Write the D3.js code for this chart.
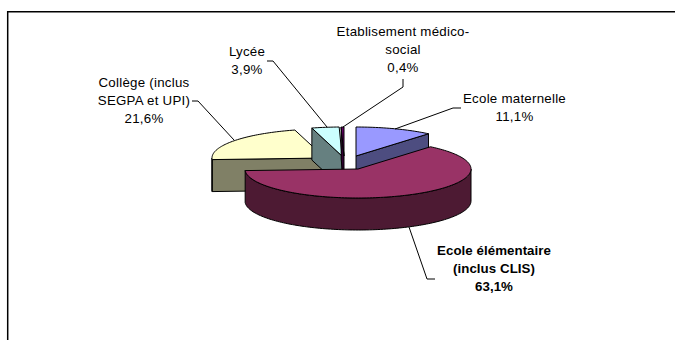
<!DOCTYPE html>
<html>
<head>
<meta charset="utf-8">
<script src="https://cdn.jsdelivr.net/npm/d3@7"></script>
<style>
html, body { margin: 0; background: #fff; }
svg { display: block; }
text { font-family: "Liberation Sans", Arial, sans-serif; font-size: 13.3px; letter-spacing: 0.25px; fill: #000; }
</style>
</head>
<body>
<svg id="board" width="675" height="340"></svg>
<script>
// order = clockwise from 12 o'clock, as in the spreadsheet
const categories = [
    ["Ecole maternelle"],
    ["Ecole élémentaire", "(inclus CLIS)"],
    ["Collège (inclus", "SEGPA et UPI)"],
    ["Lycée"],
    ["Etablisement médico-", "social"]
];
const values = [11.1, 63.1, 21.6, 3.9, 0.4];
const topColors = ["#9999ff", "#993366", "#ffffcc", "#ccffff", "#660066"];
const sideColors = ["#4d4d80", "#4d1a33", "#808066", "#668080", "#330033"];

// pie apex of each slice once pulled out
const apexX = [356, 358, 325, 342, 344];
const apexY = [156, 169, 158, 156, 156];
const labelX = [514.5, 494, 144, 247, 403];
const labelY = [103, 255, 87, 56, 36];
const leaders = [
    [[461, 108], [453, 108], [395, 129]],
    [[435, 279], [427, 279], [409, 227]],
    [[192, 101], [198, 101], [234, 140]],
    [[267, 61], [273, 61], [327, 127]],
    [[403, 79], [403, 87], [343, 127]]
];

const rx = 113;
const ry = 29;
const depth = 32;
const lineHeight = 18;

const svg = d3.select("#board");

// frame of the chart area, cut off by the page on the right and bottom
svg.append("path")
    .attr("d", "M7.7,340V11.7H675")
    .attr("fill", "none")
    .attr("stroke", "#000")
    .attr("stroke-width", 1.5);

const slices = d3.pie().sort(null).value(d => d)(values);
const line = d3.line();

function rim(i, a, dy) {
    return [apexX[i] + rx * Math.sin(a), apexY[i] - ry * Math.cos(a) + (dy || 0)];
}

function arcPoints(i, a0, a1, dy) {
    const n = Math.max(2, Math.ceil((a1 - a0) * 40));
    return d3.range(n + 1).map(k => rim(i, a0 + (a1 - a0) * k / n, dy));
}

function drawSlice(i) {
    const s = slices[i];
    const apex = [apexX[i], apexY[i]];
    const apexLow = [apexX[i], apexY[i] + depth];
    const g = svg.append("g").attr("stroke", "#000").attr("stroke-linejoin", "round");
    const faces = [];

    // cut faces, only the ones turned towards the viewer
    if (s.startAngle > Math.PI) faces.push([apex, rim(i, s.startAngle), rim(i, s.startAngle, depth), apexLow]);
    if (s.endAngle < Math.PI) faces.push([apex, rim(i, s.endAngle), rim(i, s.endAngle, depth), apexLow]);

    // outer wall, front half of the ellipse only
    const a0 = Math.max(s.startAngle, Math.PI / 2);
    const a1 = Math.min(s.endAngle, Math.PI * 1.5);
    if (a1 > a0) faces.push(arcPoints(i, a0, a1, 0).concat(arcPoints(i, a0, a1, depth).reverse()));

    faces.forEach(f => {
        g.append("path").attr("d", line(f) + "Z").attr("fill", sideColors[i]);
    });
    g.append("path")
        .attr("d", line([apex].concat(arcPoints(i, s.startAngle, s.endAngle, 0))) + "Z")
        .attr("fill", topColors[i]);
}

// back slices first, the big one sits on top of the others
[2, 3, 4, 0, 1].forEach(drawSlice);

leaders.forEach(pts => {
    svg.append("path")
        .attr("d", line(pts))
        .attr("fill", "none")
        .attr("stroke", "#000");
});

categories.forEach((lines, i) => {
    const t = svg.append("text")
        .attr("text-anchor", "middle")
        .attr("font-weight", i === 1 ? "bold" : null)
        .style("letter-spacing", i === 1 ? "0.05px" : null);
    lines.concat([String(values[i]).replace(".", ",") + "%"]).forEach((str, k) => {
        t.append("tspan")
            .attr("x", labelX[i])
            .attr("y", labelY[i] + k * lineHeight)
            .text(str);
    });
});
</script>
</body>
</html>
